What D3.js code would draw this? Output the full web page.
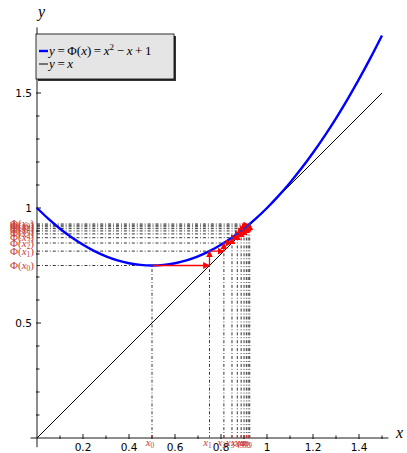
<!DOCTYPE html>
<html><head><meta charset="utf-8">
<style>
  body { margin: 0; background: #fff; }
  .sans { font-family: 'DejaVu Sans', sans-serif; }
  .serif { font-family: 'Liberation Serif', serif; }
  .math { font-family: 'Liberation Serif', serif; font-style: italic; }
</style>
</head>
<body>
<svg id="chart" width="407" height="453"></svg>
<script src="https://cdn.jsdelivr.net/npm/d3@7"></script>
<script>
// iterates x_{n+1} = Phi(x_n)
const iterX = [0.5, 0.75, 0.8125, 0.8477, 0.8709, 0.8875, 0.9002, 0.9102, 0.9182, 0.9249, 0.9305];
// sampled curve y = x^2 - x + 1
const curveX = [0, 0.05, 0.1, 0.15, 0.2, 0.25, 0.3, 0.35, 0.4, 0.45, 0.5, 0.55, 0.6, 0.65, 0.7, 0.75,
                0.8, 0.85, 0.9, 0.95, 1, 1.05, 1.1, 1.15, 1.2, 1.25, 1.3, 1.35, 1.4, 1.45, 1.5];
const curveY = [1, 0.9525, 0.91, 0.8725, 0.84, 0.8125, 0.79, 0.7725, 0.76, 0.7525, 0.75, 0.7525, 0.76, 0.7725, 0.79, 0.8125,
                0.84, 0.8725, 0.91, 0.9525, 1, 1.0525, 1.11, 1.1725, 1.24, 1.3125, 1.39, 1.4725, 1.56, 1.6525, 1.75];
const diagX = [0, 1.5];
const xTicks = [0.2, 0.4, 0.6, 0.8, 1, 1.2, 1.4];
const xMinor = [0.1, 0.3, 0.5, 0.7, 0.9, 1.1, 1.3, 1.5];
const yTicks = [0.5, 1, 1.5];
const yMinor = [0.1, 0.2, 0.3, 0.4, 0.6, 0.7, 0.8, 0.9, 1.1, 1.2, 1.3, 1.4, 1.6, 1.7];
const nLabeled = 10;

const svg = d3.select("#chart");
const x = d3.scaleLinear().domain([0, 1.5]).range([37, 382]);
const y = d3.scaleLinear().domain([0, 1.75]).range([438, 35.5]);

const defs = svg.append("defs");
defs.append("marker").attr("id", "head")
  .attr("viewBox", "0 0 10 10").attr("refX", 9).attr("refY", 5)
  .attr("markerWidth", 7).attr("markerHeight", 7)
  .attr("markerUnits", "userSpaceOnUse").attr("orient", "auto")
  .append("path").attr("d", "M0,0L10,5L0,10Z").attr("fill", "#ff0000");

// dash-dot guide lines
const guides = svg.append("g").attr("stroke", "#000").attr("stroke-width", 0.8)
  .attr("stroke-dasharray", "3,2,0.9,2").attr("fill", "none");
for (let n = 0; n < nLabeled; n++) {
  guides.append("line").attr("x1", x(iterX[n])).attr("x2", x(iterX[n]))
    .attr("y1", y(0)).attr("y2", y(iterX[n + 1]));
  guides.append("line").attr("x1", x(0)).attr("x2", x(iterX[n]))
    .attr("y1", y(iterX[n + 1])).attr("y2", y(iterX[n + 1]));
}

// axes
const ax = svg.append("g").attr("stroke", "#000").attr("stroke-width", 0.9);
ax.append("line").attr("x1", x(-0.028)).attr("x2", x(1.528)).attr("y1", y(0)).attr("y2", y(0));
ax.append("line").attr("x1", x(0)).attr("x2", x(0)).attr("y1", y(-0.04)).attr("y2", y(1.785));
xTicks.forEach(v => ax.append("line").attr("x1", x(v)).attr("x2", x(v)).attr("y1", y(0) + 1).attr("y2", y(0) - 4));
xMinor.forEach(v => ax.append("line").attr("x1", x(v)).attr("x2", x(v)).attr("y1", y(0) + 1).attr("y2", y(0) - 2.5));
yTicks.forEach(v => ax.append("line").attr("x1", x(0) - 1).attr("x2", x(0) + 4).attr("y1", y(v)).attr("y2", y(v)));
yMinor.forEach(v => ax.append("line").attr("x1", x(0) - 1).attr("x2", x(0) + 2.5).attr("y1", y(v)).attr("y2", y(v)));

svg.append("g").attr("class", "sans").selectAll("text").data(xTicks).join("text")
  .attr("x", d => x(d)).attr("y", 451).attr("text-anchor", "middle")
  .attr("font-size", 10.5).text(d => d);
svg.append("g").attr("class", "sans").selectAll("text").data(yTicks).join("text")
  .attr("x", 32).attr("y", d => y(d) + 4).attr("text-anchor", "end")
  .attr("font-size", 10.5).text(d => d);

// diagonal y = x
const line = d3.line().x(d => x(d[0])).y(d => y(d[1]));
svg.append("path").datum(diagX.map(v => [v, v])).attr("d", line)
  .attr("fill", "none").attr("stroke", "#000").attr("stroke-width", 1);

// curve
svg.append("path").datum(curveX.map((v, i) => [v, curveY[i]]))
  .attr("d", line.curve(d3.curveCatmullRom))
  .attr("fill", "none").attr("stroke", "#0000ff").attr("stroke-width", 2.4);

// cobweb arrows
const arrows = svg.append("g").attr("stroke", "#ff0000").attr("stroke-width", 1.3);
for (let n = 0; n < nLabeled - 1; n++) {
  const a = iterX[n], b = iterX[n + 1], c = iterX[n + 2];
  arrows.append("line").attr("x1", x(a)).attr("y1", y(b)).attr("x2", x(b)).attr("y2", y(b))
    .attr("marker-end", "url(#head)");
  arrows.append("line").attr("x1", x(b)).attr("y1", y(b)).attr("x2", x(b)).attr("y2", y(c))
    .attr("marker-end", "url(#head)");
}
svg.append("g").selectAll("circle").data(iterX.slice(0, nLabeled)).join("circle")
  .attr("cx", d => x(d)).attr("cy", (d, i) => y(iterX[i + 1])).attr("r", 1.3).attr("fill", "#3030c0");

// red tick labels
const red = "#c84040";
svg.append("g").selectAll("line").data(iterX.slice(0, nLabeled)).join("line")
  .attr("x1", d => x(d)).attr("x2", d => x(d)).attr("y1", y(0)).attr("y2", y(0) - 3)
  .attr("stroke", red).attr("stroke-width", 1);
const xl = svg.append("g").attr("fill", red).attr("class", "serif");
iterX.slice(0, nLabeled).forEach((v, i) => {
  const t = xl.append("text").attr("x", x(v) - 2).attr("y", 446).attr("text-anchor", "middle");
  t.append("tspan").attr("class", "math").attr("font-size", 11).text("x");
  t.append("tspan").attr("font-size", 7.5).attr("dy", 2).text(i);
});
const yl = svg.append("g").attr("fill", red).attr("class", "serif");
iterX.slice(0, nLabeled).forEach((v, i) => {
  const t = yl.append("text").attr("x", 34).attr("y", y(iterX[i + 1]) + 3.5)
    .attr("text-anchor", "end").attr("font-size", 11);
  t.append("tspan").text("Φ(");
  t.append("tspan").attr("class", "math").text("x");
  t.append("tspan").attr("font-size", 7.5).attr("dy", 2).text(i);
  t.append("tspan").attr("dy", -2).text(")");
});

// axis names
svg.append("text").attr("class", "math").attr("x", 38).attr("y", 17).attr("font-size", 16).text("y");
svg.append("text").attr("class", "math").attr("x", 396).attr("y", 438).attr("font-size", 16).text("x");

// legend
const lg = svg.append("g");
lg.append("rect").attr("x", 38).attr("y", 36).attr("width", 138).attr("height", 45).attr("fill", "#333");
lg.append("rect").attr("x", 36).attr("y", 34).attr("width", 138).attr("height", 45)
  .attr("fill", "#e5e5e5").attr("stroke", "#000").attr("stroke-width", 0.8);
lg.append("line").attr("x1", 39).attr("x2", 48).attr("y1", 51).attr("y2", 51).attr("stroke", "#0000ff").attr("stroke-width", 2.4);
lg.append("line").attr("x1", 39).attr("x2", 48).attr("y1", 64).attr("y2", 64).attr("stroke", "#000").attr("stroke-width", 1);
const t1 = lg.append("text").attr("class", "serif").attr("x", 49).attr("y", 55).attr("font-size", 13);
t1.append("tspan").attr("class", "math").text("y");
t1.append("tspan").text("\u2009=\u2009Φ(");
t1.append("tspan").attr("class", "math").text("x");
t1.append("tspan").text(")\u2009=\u2009");
t1.append("tspan").attr("class", "math").text("x");
t1.append("tspan").attr("font-size", 9).attr("dy", -5).text("2");
t1.append("tspan").attr("dy", 5).text("\u2009−\u2009");
t1.append("tspan").attr("class", "math").text("x");
t1.append("tspan").text("\u2009+\u20091");
const t2 = lg.append("text").attr("class", "serif").attr("x", 49).attr("y", 68).attr("font-size", 13);
t2.append("tspan").attr("class", "math").text("y");
t2.append("tspan").text("\u2009=\u2009");
t2.append("tspan").attr("class", "math").text("x");
</script>
</body>
</html>
